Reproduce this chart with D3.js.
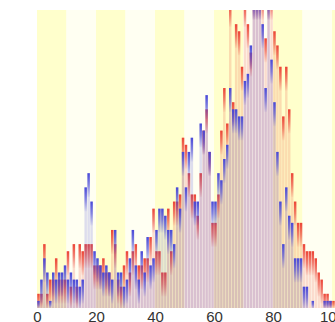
<!DOCTYPE html>
<html>
<head>
<meta charset="utf-8">
<script src="https://cdn.jsdelivr.net/npm/d3@7"></script>
<style>
  body { margin: 0; background: #fff; }
</style>
</head>
<body>
<div id="chart"></div>
<script>
// histogram counts per unit bin, two samples
const bins = d3.range(0, 102);
const redCounts = [
  2, 2, 9, 2, 4, 4, 7, 4, 4, 4,
  8, 3, 9, 3, 9, 8, 9, 9, 9, 6,
  6, 6, 7, 5, 5, 11, 9, 4, 3, 6,
  8, 5, 8, 9, 6, 6, 7, 7, 10, 14,
  8, 8, 5, 5, 14, 8, 15, 15, 16, 24,
  23, 19, 16, 16, 13, 19, 25, 28, 22, 12,
  12, 16, 25, 31, 26, 43, 29, 40, 39, 34,
  43, 40, 36, 44, 44, 44, 44, 38, 44, 44,
  39, 37, 34, 27, 34, 28, 19, 15, 12, 12,
  9, 8, 8, 8, 7, 5, 4, 2, 2, 1,
  1, 0
];
const blueCounts = [
  1, 4, 7, 5, 1, 5, 4, 5, 5, 6,
  4, 5, 4, 4, 3, 4, 17, 19, 15, 8,
  7, 6, 5, 6, 5, 4, 11, 5, 5, 3,
  4, 7, 11, 6, 4, 8, 5, 10, 6, 7,
  11, 14, 14, 13, 11, 11, 9, 17, 14, 22,
  17, 22, 24, 15, 15, 26, 25, 30, 22, 15,
  15, 19, 18, 21, 23, 31, 28, 28, 27, 27,
  32, 33, 37, 44, 44, 44, 40, 31, 44, 35,
  29, 22, 15, 9, 17, 13, 12, 7, 7, 7,
  3, 3, 0, 1, 0, 0, 0, 1, 1, 1,
  0, 0
];
const tickValues = [0, 20, 40, 60, 80, 100];
const stripeStarts = d3.range(0, 110, 10);

const width = 335, height = 322;
const plotTop = 10, plotBottom = 308;

const x = d3.scaleLinear().domain([0, 100]).range([37, 332]);
const y = d3.scaleLinear().domain([0, 42]).range([plotBottom, plotTop]);

const svg = d3.select('#chart').append('svg')
  .attr('width', width)
  .attr('height', height);

const defs = svg.append('defs');
defs.append('clipPath').attr('id', 'plot-clip')
  .append('rect')
  .attr('x', x(0)).attr('y', plotTop)
  .attr('width', width - x(0)).attr('height', plotBottom - plotTop);

const series = [
  { name: 'red', color: '#ec4436', counts: redCounts },
  { name: 'blue', color: '#4848d8', counts: blueCounts },
];

series.forEach(s => {
  const g = defs.append('linearGradient')
    .attr('id', 'fade-' + s.name)
    .attr('x1', 0).attr('y1', 0).attr('x2', 0).attr('y2', 1);
  g.append('stop').attr('offset', 0).attr('stop-color', s.color).attr('stop-opacity', 1);
  g.append('stop').attr('offset', 0.5).attr('stop-color', s.color).attr('stop-opacity', 0.6);
  g.append('stop').attr('offset', 1).attr('stop-color', s.color).attr('stop-opacity', 0.05);
});

// background stripes every 10
svg.append('g')
  .selectAll('rect')
  .data(stripeStarts)
  .join('rect')
  .attr('x', d => x(d))
  .attr('y', plotTop)
  .attr('width', x(10) - x(0))
  .attr('height', plotBottom - plotTop)
  .attr('fill', d => (d / 10) % 2 === 0 ? '#ffffcc' : '#fffff2');

const bw = x(1) - x(0) - 0.5;
const capH = 24;
const gBars = svg.append('g').attr('clip-path', 'url(#plot-clip)');

series.forEach(s => {
  const g = gBars.append('g');
  const data = bins.map((b, i) => ({ b, v: s.counts[i] })).filter(d => d.v > 0);

  // pale body
  g.selectAll('rect.body')
    .data(data)
    .join('rect')
    .attr('class', 'body')
    .attr('x', d => x(d.b) + 0.25)
    .attr('y', d => y(d.v))
    .attr('width', bw)
    .attr('height', d => plotBottom - y(d.v))
    .attr('fill', s.color)
    .attr('fill-opacity', 0.19);

  // coloured top fading down
  g.selectAll('rect.cap')
    .data(data)
    .join('rect')
    .attr('class', 'cap')
    .attr('x', d => x(d.b) + 0.25)
    .attr('y', d => y(d.v))
    .attr('width', bw)
    .attr('height', d => Math.min(capH, plotBottom - y(d.v)))
    .attr('fill', `url(#fade-${s.name})`);
});

// x axis, labels only
const axis = svg.append('g')
  .attr('transform', `translate(0,${plotBottom})`)
  .call(d3.axisBottom(x).tickValues(tickValues).tickSize(0).tickPadding(3));
axis.select('.domain').remove();
axis.selectAll('text')
  .attr('fill', '#333')
  .style('font-family', '"Liberation Sans", Arial, sans-serif')
  .style('font-size', '15px');
</script>
</body>
</html>
